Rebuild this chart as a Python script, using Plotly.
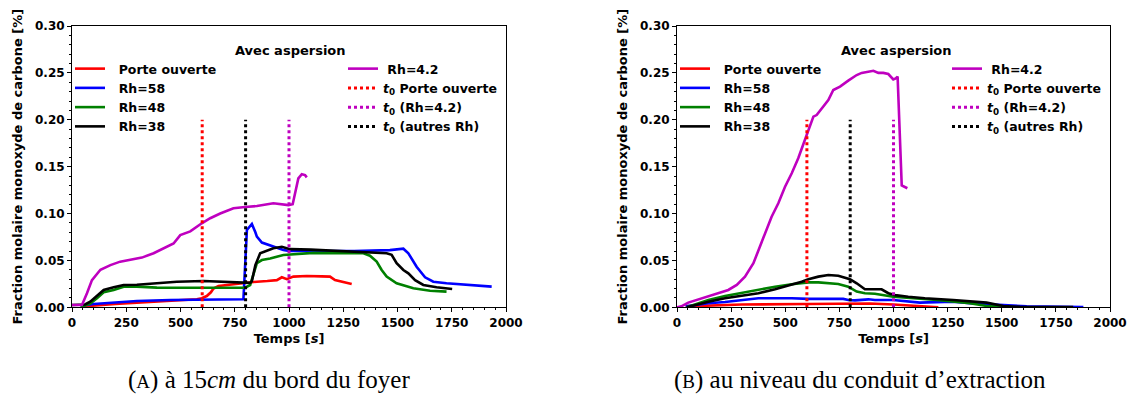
import plotly.graph_objects as go

# ---------------- Data ----------------
# Panel A : à 15 cm du bord du foyer
A_porte_t = [50, 100, 146, 200, 299, 400, 453, 530, 575, 598, 621, 640, 652, 675, 713, 760, 798, 852, 900, 944, 967, 990, 1020, 1082, 1150, 1189, 1212, 1250, 1289]
A_porte_y = [0.001, 0.002, 0.0025, 0.0035, 0.005, 0.006, 0.0067, 0.0075, 0.0085, 0.0096, 0.012, 0.016, 0.020, 0.0227, 0.0238, 0.025, 0.0256, 0.0273, 0.028, 0.029, 0.032, 0.030, 0.0327, 0.0334, 0.033, 0.0327, 0.029, 0.0273, 0.0248]

A_rh58_t = [40, 52, 100, 146, 220, 299, 453, 606, 700, 783, 790, 806, 829, 845, 852, 875, 928, 974, 1000, 1112, 1300, 1465, 1496, 1527, 1550, 1588, 1627, 1665, 1726, 1818, 1934]
A_rh58_y = [0.001, 0.002, 0.0035, 0.0043, 0.006, 0.0067, 0.0078, 0.0078, 0.008, 0.0085, 0.0085, 0.0824, 0.0888, 0.080, 0.0753, 0.069, 0.0646, 0.061, 0.060, 0.060, 0.060, 0.061, 0.062, 0.0625, 0.0576, 0.0433, 0.032, 0.0273, 0.0256, 0.024, 0.022]

A_rh48_t = [40, 60, 84, 115, 146, 192, 238, 299, 391, 483, 606, 700, 798, 821, 844, 852, 875, 913, 974, 1112, 1343, 1373, 1404, 1427, 1450, 1496, 1573, 1650, 1726]
A_rh48_y = [0.0005, 0.002, 0.004, 0.0096, 0.016, 0.0185, 0.022, 0.022, 0.021, 0.0209, 0.021, 0.021, 0.021, 0.0238, 0.0398, 0.047, 0.0504, 0.052, 0.0558, 0.058, 0.0576, 0.055, 0.0487, 0.0398, 0.0327, 0.0256, 0.0203, 0.0177, 0.0167]

A_rh38_t = [0, 40, 60, 84, 115, 146, 192, 238, 299, 391, 483, 606, 683, 783, 821, 829, 845, 867, 928, 967, 1005, 1100, 1266, 1450, 1473, 1496, 1527, 1550, 1581, 1619, 1680, 1752]
A_rh38_y = [0.0025, 0.0025, 0.003, 0.006, 0.012, 0.0185, 0.0213, 0.0238, 0.024, 0.0256, 0.0273, 0.028, 0.0273, 0.0262, 0.026, 0.028, 0.045, 0.0576, 0.063, 0.0646, 0.062, 0.0615, 0.060, 0.0576, 0.056, 0.047, 0.0398, 0.0362, 0.029, 0.0238, 0.0213, 0.0195]

A_rh42_t = [0, 46, 69, 92, 131, 177, 222, 268, 322, 376, 422, 468, 499, 545, 598, 637, 683, 744, 798, 852, 928, 959, 997, 1017, 1033, 1043, 1059, 1074, 1082]
A_rh42_y = [0.0025, 0.0025, 0.015, 0.029, 0.040, 0.045, 0.0487, 0.0504, 0.053, 0.0576, 0.063, 0.068, 0.077, 0.081, 0.0896, 0.095, 0.100, 0.1056, 0.107, 0.108, 0.111, 0.110, 0.109, 0.110, 0.1286, 0.1375, 0.142, 0.141, 0.1386]

# Panel B : au niveau du conduit d'extraction
B_porte_t = [40, 150, 300, 600, 891, 1000, 1100, 1207]
B_porte_y = [0.001, 0.002, 0.003, 0.0035, 0.004, 0.003, 0.0015, 0.0]

B_rh58_t = [40, 145, 222, 299, 376, 530, 607, 768, 791, 822, 884, 914, 999, 1122, 1200, 1276, 1353, 1507, 1615, 1877]
B_rh58_y = [0.001, 0.0043, 0.0056, 0.0078, 0.0096, 0.0096, 0.009, 0.009, 0.0078, 0.0074, 0.0085, 0.0078, 0.0078, 0.005, 0.0055, 0.006, 0.0043, 0.0025, 0.001, 0.0003]

B_rh48_t = [45, 83, 145, 222, 299, 376, 453, 530, 607, 653, 745, 791, 830, 868, 914, 999, 1200, 1353, 1430, 1507, 1569]
B_rh48_y = [0.0, 0.003, 0.0078, 0.012, 0.0156, 0.0185, 0.022, 0.0245, 0.0266, 0.0266, 0.0248, 0.022, 0.0167, 0.015, 0.0145, 0.0113, 0.0078, 0.0043, 0.0014, 0.0003, 0.0]

B_rh38_t = [45, 83, 145, 222, 299, 376, 453, 530, 576, 607, 653, 699, 745, 799, 830, 868, 899, 930, 945, 976, 1007, 1068, 1145, 1276, 1430, 1507, 1584, 1830]
B_rh38_y = [0.0, 0.0025, 0.006, 0.0096, 0.012, 0.015, 0.0192, 0.0238, 0.0273, 0.030, 0.0327, 0.0344, 0.0337, 0.030, 0.0256, 0.0192, 0.0192, 0.020, 0.0192, 0.015, 0.013, 0.0113, 0.0096, 0.0078, 0.005, 0.0014, 0.0005, 0.0003]

B_rh42_t = [0, 20, 52, 99, 145, 191, 237, 276, 314, 353, 383, 414, 437, 468, 499, 530, 560, 599, 614, 630, 645, 668, 699, 722, 753, 791, 830, 853, 907, 930, 953, 976, 999, 1010, 1019, 1038, 1053, 1064]
B_rh42_y = [0.0, 0.001, 0.005, 0.0085, 0.012, 0.015, 0.0185, 0.0238, 0.0327, 0.047, 0.0646, 0.0824, 0.0966, 0.111, 0.1286, 0.143, 0.159, 0.1838, 0.1944, 0.2033, 0.205, 0.2122, 0.221, 0.2317, 0.2353, 0.2417, 0.2477, 0.250, 0.2523, 0.250, 0.250, 0.2488, 0.243, 0.244, 0.246, 0.130, 0.1286, 0.127]

# t0 markers (vertical dotted lines)
t0_times = [600, 1000, 800]
t0_top = 0.20

series_names = ["Porte ouverte", "Rh=58", "Rh=48", "Rh=38", "Rh=4.2"]
t0_names = ["<i>t</i><sub>0</sub> Porte ouverte", "<i>t</i><sub>0</sub> (Rh=4.2)", "<i>t</i><sub>0</sub> (autres Rh)"]
colors = ["#ff0000", "#0000ff", "#008000", "#000000", "#bf00bf"]
t0_colors = ["#ff0000", "#bf00bf", "#000000"]

panels = [
    [(A_porte_t, A_porte_y), (A_rh58_t, A_rh58_y), (A_rh48_t, A_rh48_y), (A_rh38_t, A_rh38_y), (A_rh42_t, A_rh42_y)],
    [(B_porte_t, B_porte_y), (B_rh58_t, B_rh58_y), (B_rh48_t, B_rh48_y), (B_rh38_t, B_rh38_y), (B_rh42_t, B_rh42_y)],
]

W, H = 1131, 399
NB = "\u00a0"

fig = go.Figure()

legend_font = dict(family="DejaVu Sans", size=12.5, color="black", weight="bold")

for p, data in enumerate(panels):
    xa = "x" if p == 0 else "x2"
    ya = "y" if p == 0 else "y2"
    lg_left = "legend" if p == 0 else "legend3"
    lg_right = "legend2" if p == 0 else "legend4"
    for i, (tt, yy) in enumerate(data):
        name = series_names[i]
        if i < 4:
            name = NB + NB + name
            lg = lg_left
        else:
            name = NB + name
            lg = lg_right
        fig.add_trace(go.Scatter(x=tt, y=yy, mode="lines", name=name,
                                 line=dict(color=colors[i], width=2.6),
                                 xaxis=xa, yaxis=ya, legend=lg, showlegend=True))
    for j, tx in enumerate(t0_times):
        fig.add_trace(go.Scatter(x=[tx, tx], y=[0, t0_top], mode="lines", name=t0_names[j],
                                 line=dict(color=t0_colors[j], width=3, dash="3px,3px"),
                                 xaxis=xa, yaxis=ya, legend=lg_right, showlegend=True))

# geometry in pixels
ax_left = [(72, 506), (677, 1110)]
y_top, y_bot = 26, 307.3

def px2x(px):
    return px / W

def px2y(py):
    return 1 - py / H

tickfont = dict(family="DejaVu Sans", size=12, color="black", weight="bold")
titlefont = dict(family="DejaVu Sans", size=13, color="black", weight="bold")

def xaxis_cfg(p):
    return dict(domain=[px2x(ax_left[p][0]), px2x(ax_left[p][1])], range=[0, 2000],
                tickmode="linear", tick0=0, dtick=250, ticks="outside", ticklen=4, tickwidth=1,
                tickcolor="black", showline=True, linecolor="black", linewidth=1, mirror=True,
                showgrid=False, zeroline=False, tickfont=tickfont,
                minor=dict(ticks="outside", dtick=50, tick0=0, ticklen=2, tickcolor="black", showgrid=False),
                title=dict(text="Temps [<i>s</i>]", font=titlefont, standoff=5),
                anchor="y" if p == 0 else "y2", automargin=False)

def yaxis_cfg(p):
    return dict(domain=[px2y(y_bot), px2y(y_top)], range=[0, 0.30],
                tickmode="linear", tick0=0, dtick=0.05, tickformat=".2f", ticks="outside", ticklen=4,
                tickwidth=1, tickcolor="black", showline=True, linecolor="black", linewidth=1, mirror=True,
                showgrid=False, zeroline=False, tickfont=tickfont,
                minor=dict(ticks="outside", dtick=0.01, tick0=0, ticklen=2, tickcolor="black", showgrid=False),
                title=dict(text="Fraction molaire monoxyde de carbone [%]", font=titlefont, standoff=9),
                anchor="x" if p == 0 else "x2", automargin=False)

def legend_cfg(left_px, top_px):
    return dict(x=px2x(left_px), y=px2y(top_px), xanchor="left", yanchor="top",
                bgcolor="rgba(0,0,0,0)", borderwidth=0, font=legend_font,
                itemwidth=30, tracegroupgap=0, orientation="v")

leg_top = 54
fig.update_layout(
    width=W, height=H,
    margin=dict(l=0, r=0, t=0, b=0),
    paper_bgcolor="white", plot_bgcolor="white",
    xaxis=xaxis_cfg(0), yaxis=yaxis_cfg(0),
    xaxis2=xaxis_cfg(1), yaxis2=yaxis_cfg(1),
    legend=legend_cfg(70, leg_top),
    legend2=legend_cfg(343, leg_top),
    legend3=legend_cfg(675, leg_top),
    legend4=legend_cfg(947, leg_top),
    showlegend=True,
)

annots = [
    dict(text="Avec aspersion", x=px2x(290), y=px2y(50)),
    dict(text="Avec aspersion", x=px2x(896), y=px2y(50)),
]
for a in annots:
    fig.add_annotation(xref="paper", yref="paper", x=a["x"], y=a["y"], text=a["text"],
                       showarrow=False, xanchor="center", yanchor="middle",
                       font=dict(family="DejaVu Sans", size=13, color="black", weight="bold"))

captions = [
    ("(<span style='font-size:19px'>A</span>) à 15<i>cm</i> du bord du foyer", 269),
    ("(<span style='font-size:19px'>B</span>) au niveau du conduit d\u2019extraction", 860),
]
for txt, cx in captions:
    fig.add_annotation(xref="paper", yref="paper", x=px2x(cx), y=px2y(380), text=txt,
                       showarrow=False, xanchor="center", yanchor="middle",
                       font=dict(family="Liberation Serif", size=25, color="black"))

fig.write_html("out.html", config={"displayModeBar": False},
               post_script="document.body.style.margin='0';document.body.style.overflow='hidden';")
